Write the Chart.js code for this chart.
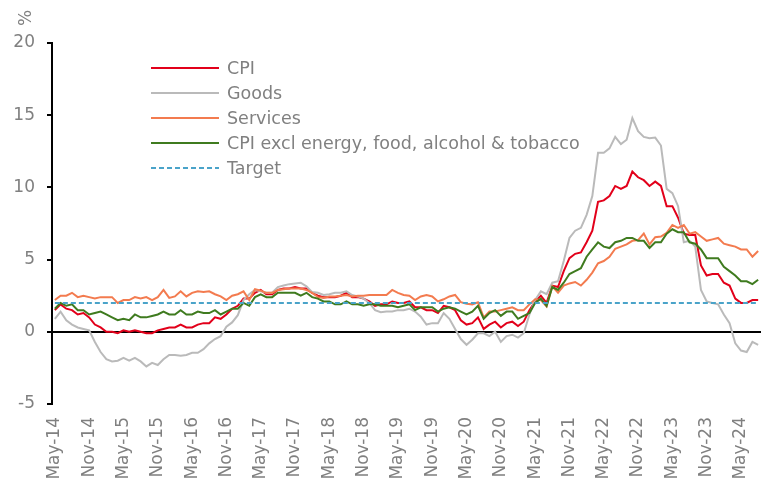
<!DOCTYPE html>
<html>
<head>
<meta charset="utf-8">
<title>UK CPI</title>
<script src="https://cdn.jsdelivr.net/npm/chart.js@4.4.1/dist/chart.umd.min.js"></script>
<style>
  html, body { margin: 0; padding: 0; background: #fff; overflow: hidden; }
  #chart { display: block; }
</style>
</head>
<body>
<canvas id="chart" width="765" height="482"></canvas>
<script>
// Annual rates, %, monthly from May-14 to Aug-24
const cpi = [
  1.5, 1.9, 1.6, 1.5, 1.2, 1.3, 1.0, 0.5,
  0.3, 0.0, 0.0, -0.1, 0.1, 0.0, 0.1, 0.0, -0.1, -0.1, 0.1, 0.2,
  0.3, 0.3, 0.5, 0.3, 0.3, 0.5, 0.6, 0.6, 1.0, 0.9, 1.2, 1.6,
  1.8, 2.3, 2.3, 2.7, 2.9, 2.6, 2.6, 2.9, 3.0, 3.0, 3.1, 3.0,
  3.0, 2.7, 2.5, 2.4, 2.4, 2.4, 2.5, 2.7, 2.4, 2.4, 2.3, 2.1,
  1.8, 1.9, 1.9, 2.1, 2.0, 2.0, 2.1, 1.7, 1.7, 1.5, 1.5, 1.3,
  1.8, 1.7, 1.5, 0.8, 0.5, 0.6, 1.0, 0.2, 0.5, 0.7, 0.3, 0.6,
  0.7, 0.4, 0.7, 1.5, 2.1, 2.5, 2.0, 3.2, 3.1, 4.2, 5.1, 5.4,
  5.5, 6.2, 7.0, 9.0, 9.1, 9.4, 10.1, 9.9, 10.1, 11.1, 10.7, 10.5,
  10.1, 10.4, 10.1, 8.7, 8.7, 7.9, 6.8, 6.7, 6.7, 4.6, 3.9, 4.0,
  4.0, 3.4, 3.2, 2.3, 2.0, 2.0, 2.2, 2.2
];

const goods = [
  0.9, 1.4, 0.8, 0.5, 0.3, 0.2, 0.1, -0.7,
  -1.4, -1.9, -2.05, -2.0, -1.8, -2.0, -1.8, -2.05, -2.4, -2.15, -2.3, -1.9,
  -1.6, -1.6, -1.65, -1.6, -1.45, -1.45, -1.2, -0.8, -0.5, -0.3, 0.35, 0.65,
  1.15, 2.2, 2.6, 2.9, 2.8, 2.7, 2.7, 3.1, 3.2, 3.3, 3.35, 3.4,
  3.15, 2.75, 2.7, 2.55, 2.6, 2.7, 2.7, 2.8, 2.55, 2.45, 2.3, 2.0,
  1.5, 1.35, 1.4, 1.4, 1.5, 1.5, 1.6, 1.4, 1.05, 0.5, 0.6, 0.6,
  1.3, 0.9, 0.2, -0.5, -0.9, -0.55, -0.1, -0.1, -0.3, 0.0, -0.7, -0.3,
  -0.2, -0.4, -0.1, 1.2, 2.2, 2.8, 2.6, 3.4, 3.5, 4.9, 6.5, 7.0,
  7.2, 8.1, 9.4, 12.4, 12.4, 12.7, 13.5, 13.0, 13.3, 14.8, 13.9, 13.5,
  13.4, 13.45, 12.9, 9.9, 9.6, 8.7, 6.2, 6.3, 5.9, 2.9, 2.1, 2.0,
  1.9, 1.2, 0.6, -0.8, -1.3, -1.4, -0.7, -0.9
];

const services = [
  2.2, 2.5, 2.5, 2.7, 2.4, 2.5, 2.4, 2.3,
  2.4, 2.4, 2.4, 2.0, 2.2, 2.2, 2.4, 2.3, 2.4, 2.2, 2.4, 2.9,
  2.35, 2.45, 2.8, 2.45, 2.7, 2.8, 2.75, 2.8, 2.6, 2.45, 2.2, 2.5,
  2.6, 2.8, 2.2, 2.95, 2.85, 2.7, 2.7, 2.9, 2.95, 3.0, 3.0, 3.0,
  2.9, 2.7, 2.4, 2.35, 2.45, 2.45, 2.5, 2.55, 2.45, 2.5, 2.5, 2.55,
  2.55, 2.55, 2.55, 2.9, 2.7, 2.55, 2.5, 2.2, 2.45, 2.55, 2.45, 2.1,
  2.25, 2.45, 2.55, 2.05, 1.95, 1.9, 2.05, 1.0, 1.4, 1.4, 1.5, 1.6,
  1.7, 1.5, 1.5, 1.9, 2.25, 2.2, 1.75, 3.15, 2.7, 3.2, 3.35, 3.45,
  3.2, 3.6, 4.1, 4.75, 4.9, 5.2, 5.75, 5.9, 6.05, 6.3, 6.35, 6.8,
  6.05, 6.55, 6.6, 6.85, 7.4, 7.2, 7.4, 6.8, 6.9, 6.6, 6.3, 6.4,
  6.5, 6.1, 6.0, 5.9, 5.7, 5.7, 5.2, 5.6
];

const core = [
  1.6, 2.0, 1.8, 1.9, 1.5, 1.5, 1.2, 1.3,
  1.4, 1.2, 1.0, 0.8, 0.9, 0.8, 1.2, 1.0, 1.0, 1.1, 1.2, 1.4,
  1.2, 1.2, 1.5, 1.2, 1.2, 1.4, 1.3, 1.3, 1.5, 1.2, 1.4, 1.6,
  1.6, 2.0, 1.8, 2.4, 2.6, 2.4, 2.4, 2.7, 2.7, 2.7, 2.7, 2.5,
  2.7, 2.4, 2.3, 2.1, 2.1, 1.9, 1.9, 2.1, 1.9, 1.9, 1.8, 1.9,
  1.9, 1.8, 1.8, 1.8, 1.7, 1.8, 1.9, 1.5, 1.7, 1.7, 1.7, 1.4,
  1.6, 1.7, 1.6, 1.4, 1.2, 1.4, 1.8, 0.9, 1.3, 1.5, 1.1, 1.4,
  1.4, 0.9, 1.1, 1.3, 2.0, 2.3, 1.8, 3.1, 2.9, 3.4, 4.0, 4.2,
  4.4, 5.2, 5.7, 6.2, 5.9, 5.8, 6.2, 6.3, 6.5, 6.5, 6.3, 6.3,
  5.8, 6.2, 6.2, 6.8, 7.1, 6.9, 6.9, 6.2, 6.1, 5.7, 5.1, 5.1,
  5.1, 4.5, 4.2, 3.9, 3.5, 3.5, 3.3, 3.6
];

const targetRate = 2;

const tickLabels = [
  'May-14', 'Nov-14', 'May-15', 'Nov-15', 'May-16', 'Nov-16', 'May-17',
  'Nov-17', 'May-18', 'Nov-18', 'May-19', 'Nov-19', 'May-20', 'Nov-20',
  'May-21', 'Nov-21', 'May-22', 'Nov-22', 'May-23', 'Nov-23', 'May-24'
];

const monthNames = ['Jan', 'Feb', 'Mar', 'Apr', 'May', 'Jun', 'Jul', 'Aug', 'Sep', 'Oct', 'Nov', 'Dec'];

// category labels: one per month, starting May-14
const labels = [];
for (let i = 0; i < cpi.length; i++) {
  const m = 4 + i;
  labels.push(monthNames[m % 12] + '-' + (14 + Math.floor(m / 12)));
}

const FONT = "'DejaVu Sans', Verdana, sans-serif";
const TEXT_GREY = '#808080';

Chart.defaults.font.family = FONT;
Chart.defaults.font.size = 17;
Chart.defaults.color = TEXT_GREY;

// legend drawn inside the plot, plus the "%" unit at the top of the y axis
const insideLegend = {
  id: 'insideLegend',
  afterDraw(chart) {
    const ctx = chart.ctx;
    ctx.save();
    ctx.font = '17.5px ' + FONT;
    ctx.textBaseline = 'middle';
    chart.data.datasets.forEach((ds, i) => {
      const y = 68 + i * 25;
      ctx.strokeStyle = ds.borderColor;
      ctx.lineWidth = 2;
      ctx.setLineDash(ds.borderDash || []);
      ctx.beginPath();
      ctx.moveTo(151, y);
      ctx.lineTo(219, y);
      ctx.stroke();
      ctx.setLineDash([]);
      ctx.fillStyle = TEXT_GREY;
      ctx.textAlign = 'left';
      ctx.fillText(ds.label, 227, y + 1);
    });
    ctx.font = '17px ' + FONT;
    ctx.translate(27, 18);
    ctx.rotate(-Math.PI / 2);
    ctx.textAlign = 'center';
    ctx.fillText('%', 0, 0);
    ctx.restore();
  }
};

const lineDefaults = {
  borderWidth: 2,
  pointRadius: 0,
  tension: 0,
  fill: false
};

new Chart(document.getElementById('chart'), {
  type: 'line',
  data: {
    labels: labels,
    datasets: [
      { ...lineDefaults, label: 'CPI', data: cpi, borderColor: '#e2001a', order: 5 },
      { ...lineDefaults, label: 'Goods', data: goods, borderColor: '#bababa', order: 4 },
      { ...lineDefaults, label: 'Services', data: services, borderColor: '#f37b4f', order: 3 },
      { ...lineDefaults, label: 'CPI excl energy, food, alcohol & tobacco', data: core, borderColor: '#3f7b1f', order: 2 },
      {
        ...lineDefaults,
        label: 'Target',
        data: [{ x: labels[0], y: targetRate }, { x: labels[labels.length - 1], y: targetRate }],
        borderColor: '#4aa3c9',
        borderDash: [5, 3],
        order: 1
      }
    ]
  },
  options: {
    responsive: false,
    animation: false,
    layout: { padding: { top: 43, right: 4, left: 0, bottom: 0 } },
    plugins: {
      legend: { display: false },
      tooltip: { enabled: false }
    },
    scales: {
      x: {
        type: 'category',
        offset: true,
        grid: { display: false, drawTicks: false },
        border: { display: false },
        ticks: {
          autoSkip: false,
          minRotation: 90,
          maxRotation: 90,
          padding: 13,
          color: TEXT_GREY,
          callback: function (value) {
            const l = this.getLabelForValue(value);
            return tickLabels.includes(l) ? l : '';
          }
        },
        afterFit: (scale) => {
          scale.height = 78;
          scale.paddingLeft = 0;
          scale.paddingRight = 0;
        }
      },
      y: {
        min: -5,
        max: 20,
        ticks: { stepSize: 5, padding: 12, color: TEXT_GREY },
        grid: {
          drawOnChartArea: true,
          color: (ctx) => (ctx.tick && ctx.tick.value === 0 ? '#000' : 'rgba(0,0,0,0)'),
          tickColor: '#000',
          tickLength: 5,
          lineWidth: 2
        },
        border: { color: '#000', width: 2 },
        afterFit: (scale) => {
          scale.width = 52;
          scale.paddingTop = 0;
          scale.paddingBottom = 0;
        }
      }
    }
  },
  plugins: [insideLegend]
});
</script>
</body>
</html>
